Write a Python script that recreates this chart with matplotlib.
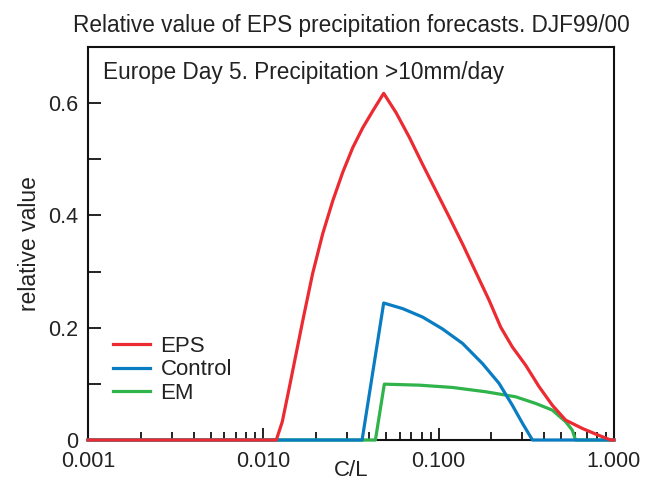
import numpy as np
import matplotlib
matplotlib.use("Agg")
import matplotlib.pyplot as plt
from matplotlib.ticker import FixedLocator, LogLocator, NullFormatter

plt.rcParams['font.family'] = ['Liberation Sans', 'DejaVu Sans']

# values
eps_x = [0.001, 0.01186, 0.01283, 0.0141, 0.0168, 0.0191, 0.0218, 0.0249, 0.0284, 0.0324,
         0.0369, 0.0421, 0.0486, 0.0572, 0.0681, 0.0810, 0.0965, 0.115, 0.137, 0.163,
         0.194, 0.226, 0.263, 0.314, 0.374, 0.445, 0.530, 0.659, 0.785, 0.957, 1.0]
eps_y = [0, 0, 0.0325, 0.0947, 0.213, 0.296, 0.367, 0.426, 0.477, 0.521,
         0.556, 0.586, 0.6175, 0.583, 0.539, 0.491, 0.444, 0.397, 0.349, 0.299,
         0.249, 0.201, 0.166, 0.133, 0.095, 0.062, 0.0355, 0.0207, 0.0107, 0, 0]

ctrl_x = [0.001, 0.0366, 0.0486, 0.0624, 0.0810, 0.105, 0.137, 0.178, 0.221, 0.263, 0.301, 0.343, 1.0]
ctrl_y = [0, 0, 0.244, 0.234, 0.219, 0.198, 0.172, 0.136, 0.101, 0.0622, 0.0296, 0, 0]

em_x = [0.001, 0.0436, 0.0490, 0.0776, 0.120, 0.186, 0.275, 0.358, 0.445, 0.530, 0.578, 0.604, 1.0]
em_y = [0, 0, 0.0995, 0.0977, 0.0936, 0.0859, 0.077, 0.0651, 0.0533, 0.0326, 0.0178, 0, 0]

xticks = [0.001, 0.01, 0.1, 1.0]
xtick_labels = ['0.001', '0.010', '0.100', '1.000']
yticks = [0, 0.2, 0.4, 0.6]
ytick_labels = ['0', '0.2', '0.4', '0.6']

fig = plt.figure(figsize=(6.56, 4.83), dpi=100)
ax = fig.add_axes([0.1341, 0.0890, 0.8018, 0.8137])

ax.plot(em_x, em_y, color='#2fb34b', lw=2.3, label='EM', zorder=3, clip_on=False)
ax.plot(ctrl_x, ctrl_y, color='#0a7dc2', lw=2.3, label='Control', zorder=4, clip_on=False)
ax.plot(eps_x, eps_y, color='#ec2a31', lw=2.3, label='EPS', zorder=5, clip_on=False)

ax.set_xscale('log')
ax.set_xlim(0.001, 1.0)
ax.set_ylim(0, 0.7)

ax.set_xticks(xticks)
ax.set_xticklabels(xtick_labels)
ax.xaxis.set_minor_locator(LogLocator(base=10, subs=np.arange(2, 10)))
ax.xaxis.set_minor_formatter(NullFormatter())
ax.set_yticks(yticks)
ax.set_yticklabels(ytick_labels)
ax.yaxis.set_minor_locator(FixedLocator([0.1, 0.3, 0.5]))

ax.tick_params(which='both', direction='in', top=False, right=False, labelsize=15.5, width=1.4,
               color='#222222', labelcolor='#222222')
ax.tick_params(which='major', length=9)
ax.tick_params(axis='x', which='major', pad=8)
ax.tick_params(axis='y', which='major', pad=7)
ax.tick_params(axis='x', which='minor', length=6)
ax.tick_params(axis='y', which='minor', length=9)
for s in ax.spines.values():
    s.set_linewidth(1.5)
    s.set_color('#111111')

ax.set_xlabel('C/L', fontsize=16, labelpad=-9, color='#222222')
ax.set_ylabel('relative value', fontsize=16.5, labelpad=5, color='#222222')
ax.set_title('Relative value of EPS precipitation forecasts. DJF99/00', fontsize=16.3, pad=11,
             color='#222222')
ax.text(0.0285, 0.9186, 'Europe Day 5. Precipitation >10mm/day', transform=ax.transAxes,
        fontsize=16.3, va='baseline', ha='left', color='#222222')

h, l = ax.get_legend_handles_labels()
ax.legend(h[::-1], l[::-1], loc='lower left', bbox_to_anchor=(0.03, 0.07), frameon=False,
          fontsize=16, handlelength=1.7, handletextpad=0.45, labelspacing=0.1, borderaxespad=0,
          labelcolor='#222222')

fig.savefig('out.png', dpi=100)
